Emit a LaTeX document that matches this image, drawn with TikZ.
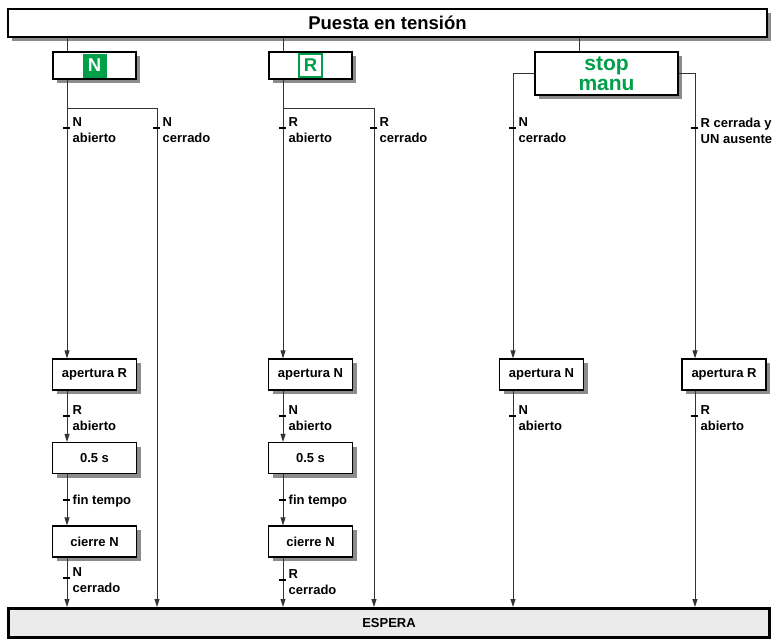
\documentclass[tikz,border=0pt]{standalone}
\usepackage{fontspec}
\setmainfont{Liberation Sans}
\usetikzlibrary{arrows.meta, positioning, shadows, calc}
\definecolor{vert}{HTML}{00A04A}
\definecolor{linegray}{HTML}{333333}
\definecolor{attente}{HTML}{EBEBEB}

\begin{document}
\begin{tikzpicture}[x=1pt, y=-1pt,
  plain/.style={draw=black, line width=1.3pt, fill=white,
    minimum width=84pt, minimum height=31pt, inner sep=0pt,
    font=\fontsize{13}{16}\selectfont\bfseries},
  box/.style={plain, drop shadow={shadow xshift=4pt, shadow yshift=-4pt,
    fill=black!45, opacity=1}},
  lab/.style={font=\fontsize{13}{16}\selectfont\bfseries, align=left,
    inner sep=0pt, anchor=north west},
  line/.style={draw=linegray, line width=0.9pt},
  arr/.style={line, -{Triangle[length=8pt, width=5pt]}},
  tick/.style={draw=black, line width=2pt}]
  \useasboundingbox (0,0) rectangle (776,640);

  % power-up and modes
  \node[box, minimum width=759pt, minimum height=28pt,
        font=\fontsize{18.5}{20}\selectfont\bfseries] (start) at (387.5,23) {Puesta en tensión};
  \node[box, minimum width=83pt, minimum height=27pt] (mode1) at (94.5,65.5) {};
  \node[fill=vert, text=white, minimum size=24pt, inner sep=0pt,
        font=\fontsize{18.5}{20}\selectfont\bfseries] (icon1) at (mode1) {N};
  \node[box, minimum width=83pt, minimum height=27pt] (mode2) at (310.5,65.5) {};
  \node[draw=vert, line width=2.4pt, fill=white, text=vert, minimum size=22.5pt, inner sep=0pt,
        font=\fontsize{18.5}{20}\selectfont\bfseries] (icon2) at (mode2) {R};
  \node[box, minimum width=143pt, minimum height=43pt, text=vert, align=center,
        font=\fontsize{21}{20}\selectfont\bfseries] (stopM) at (606.5,73.5) {stop\\manu};

  % steps
  \foreach \n/\x/\t in {ap1/94.5/apertura R, ap2/310.5/apertura N, ap3/541.5/apertura N, ap4/724/apertura R}
    \node[box] (\n) at (\x,374.5) {\t};
  \foreach \n/\x in {tp1/94.5, tp2/310.5}
    \node[box] (\n) at (\x,458) {0.5 s};
  \foreach \n/\x in {ci1/94.5, ci2/310.5}
    \node[box] (\n) at (\x,541.5) {cierre N};
  \node[plain, line width=3pt, fill=attente, minimum width=761pt, minimum height=29pt] (wait) at (389,623) {ESPERA};

  % columns
  \coordinate (c1) at (67,108);
  \coordinate (d1) at (157,108);
  \coordinate (c2) at (283,108);
  \coordinate (d2) at (374,108);
  \coordinate (c3) at (513,0);
  \coordinate (c4) at (695,0);
  \coordinate (top3) at (579,0);

  \draw[line] (start.south -| c1) -- (mode1.north -| c1);
  \draw[line] (start.south -| c2) -- (mode2.north -| c2);
  \draw[line] (start.south -| top3) -- (stopM.north -| top3);

  \foreach \i in {1,2} {
    \draw[line] (mode\i.south -| c\i) -- (c\i) -- (d\i);
    \draw[arr] (d\i) -- (d\i |- wait.north);
    \draw[arr] (c\i) -- (ap\i.north -| c\i);
    \draw[arr] (ap\i.south -| c\i) -- (tp\i.north -| c\i);
    \draw[arr] (tp\i.south -| c\i) -- (ci\i.north -| c\i);
    \draw[arr] (ci\i.south -| c\i) -- (wait.north -| c\i);
  }
  \draw[arr] (stopM.west) -| (ap3.north -| c3);
  \draw[arr] (stopM.east) -| (ap4.north -| c4);
  \draw[arr] (ap3.south -| c3) -- (wait.north -| c3);
  \draw[arr] (ap4.south -| c4) -- (wait.north -| c4);

  % transitions
  \foreach \x/\y/\t in {67/128/{N\\abierto}, 157/128/{N\\cerrado}, 283/128/{R\\abierto},
      374/128/{R\\cerrado}, 513/128/{N\\cerrado}, 695/128/{R cerrada y\\UN ausente},
      67/416/{R\\abierto}, 283/416/{N\\abierto}, 513/416/{N\\abierto}, 695/416/{R\\abierto},
      67/578/{N\\cerrado}, 283/580/{R\\cerrado}} {
    \draw[tick] (\x-4,\y) -- (\x+3,\y);
    \node[lab] (t\x-\y) at (\x+5.5,\y-10.5) {\t};
  }
  \foreach \x in {67,283} {
    \draw[tick] (\x-4,500) -- (\x+3,500);
    \node[lab, anchor=west] (f\x) at (\x+5.5,501) {fin tempo};
  }
\end{tikzpicture}
\end{document}
